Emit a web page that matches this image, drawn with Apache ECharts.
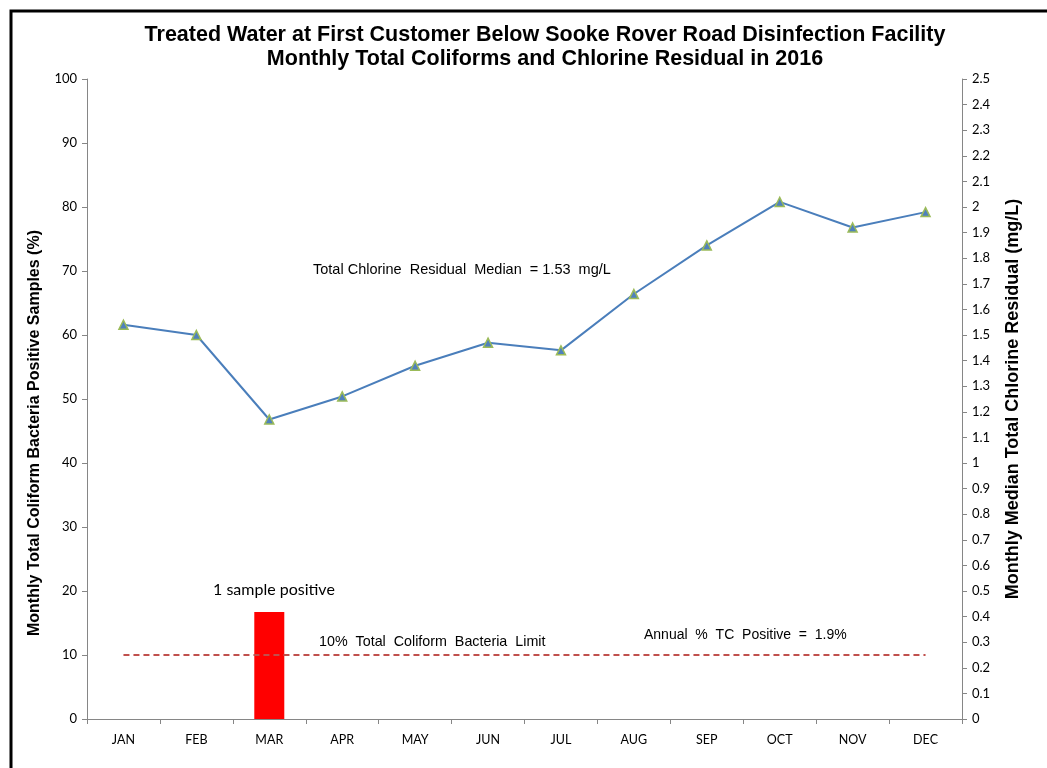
<!DOCTYPE html>
<html>
<head>
<meta charset="utf-8">
<script src="https://cdn.jsdelivr.net/npm/echarts@6/dist/echarts.min.js"></script>
<style>
  html, body { margin: 0; padding: 0; background: #fff; }
  #chart { width: 1047px; height: 768px; }
</style>
</head>
<body>
<div id="chart"></div>
<script>
const months = ['JAN', 'FEB', 'MAR', 'APR', 'MAY', 'JUN', 'JUL', 'AUG', 'SEP', 'OCT', 'NOV', 'DEC']
// % of samples positive for total coliforms
const tcPositive = [0, 0, 16.7, 0, 0, 0, 0, 0, 0, 0, 0, 0]
// 10% limit line
const tcLimit = [10, 10, 10, 10, 10, 10, 10, 10, 10, 10, 10, 10]
// monthly median total chlorine residual (mg/L)
const chlorine = [1.54, 1.50, 1.17, 1.26, 1.38, 1.47, 1.44, 1.66, 1.85, 2.02, 1.92, 1.98]

const tickFont = 'Lato, "Open Sans", sans-serif'
const textFont = '"Liberation Sans", Arial, sans-serif'

const chart = echarts.init(document.getElementById('chart'))

const option = {
  backgroundColor: '#fff',
  animation: false,
  title: {
    text: 'Treated Water at First Customer Below Sooke Rover Road Disinfection Facility\nMonthly Total Coliforms and Chlorine Residual in 2016',
    left: 540,
    textAlign: 'center',
    top: 18,
    textStyle: {
      fontFamily: textFont,
      fontSize: 21.5,
      fontWeight: 'bold',
      lineHeight: 24,
      color: '#000'
    }
  },
  grid: { left: 87, right: 85, top: 79, bottom: 49 },
  xAxis: {
    type: 'category',
    data: months,
    axisLine: { lineStyle: { color: '#868686' } },
    axisTick: { show: true, alignWithLabel: false, length: 5, lineStyle: { color: '#868686' } },
    axisLabel: { color: '#000', fontFamily: tickFont, fontSize: 12.5, margin: 14 }
  },
  yAxis: [
    {
      type: 'value',
      min: 0,
      max: 100,
      interval: 10,
      axisLine: { show: true, lineStyle: { color: '#868686' } },
      axisTick: { show: true, length: 5, lineStyle: { color: '#868686' } },
      axisLabel: { color: '#000', fontFamily: tickFont, fontSize: 13, margin: 10 },
      splitLine: { show: false }
    },
    {
      type: 'value',
      min: 0,
      max: 2.5,
      interval: 0.1,
      position: 'right',
      axisLine: { show: true, lineStyle: { color: '#868686' } },
      axisTick: { show: true, length: 5, lineStyle: { color: '#868686' } },
      axisLabel: {
        color: '#000', fontFamily: tickFont, fontSize: 13, margin: 10,
        formatter: v => String(Math.round(v * 10) / 10)
      },
      splitLine: { show: false }
    }
  ],
  series: [
    {
      name: 'TC Positive',
      type: 'bar',
      data: tcPositive,
      barWidth: 30,
      itemStyle: { color: '#ff0000' }
    },
    {
      name: 'TC Limit',
      type: 'line',
      data: tcLimit,
      symbol: 'none',
      lineStyle: { color: '#c0504d', width: 2, type: [6, 4] }
    },
    {
      name: 'Chlorine Residual',
      type: 'line',
      yAxisIndex: 1,
      data: chlorine,
      symbol: 'triangle',
      symbolSize: 9,
      itemStyle: { color: '#4f81bd', borderColor: '#9bbb59', borderWidth: 1.5 },
      lineStyle: { color: '#4a7ebb', width: 2 }
    }
  ],
  graphic: [
    {
      type: 'rect',
      shape: { x: 11, y: 11, width: 1060, height: 780 },
      style: { fill: 'none', stroke: '#000', lineWidth: 3 },
      silent: true
    },
    {
      type: 'text', x: 35, y: 433, rotation: Math.PI / 2,
      style: {
        text: 'Monthly Total Coliform Bacteria Positive Samples (%)',
        font: 'bold 16px ' + textFont, fill: '#000',
        align: 'center', verticalAlign: 'middle'
      }
    },
    {
      type: 'text', x: 1013, y: 399, rotation: Math.PI / 2,
      style: {
        text: 'Monthly Median Total Chlorine Residual (mg/L)',
        font: 'bold 18px ' + textFont, fill: '#000',
        align: 'center', verticalAlign: 'middle'
      }
    },
    {
      type: 'text', left: 213, top: 582,
      style: { text: '1 sample positive', font: '16px ' + tickFont, fill: '#000' }
    },
    {
      type: 'text', left: 319, top: 635,
      style: { text: '10%  Total  Coliform  Bacteria  Limit', font: '14.3px ' + textFont, fill: '#000' }
    },
    {
      type: 'text', left: 644, top: 628,
      style: { text: 'Annual  %  TC  Positive  =  1.9%', font: '14px ' + textFont, fill: '#000' }
    },
    {
      type: 'text', left: 313, top: 262,
      style: { text: 'Total Chlorine  Residual  Median  = 1.53  mg/L', font: '14.5px ' + textFont, fill: '#000' }
    }
  ]
}

chart.setOption(option)
</script>
</body>
</html>
